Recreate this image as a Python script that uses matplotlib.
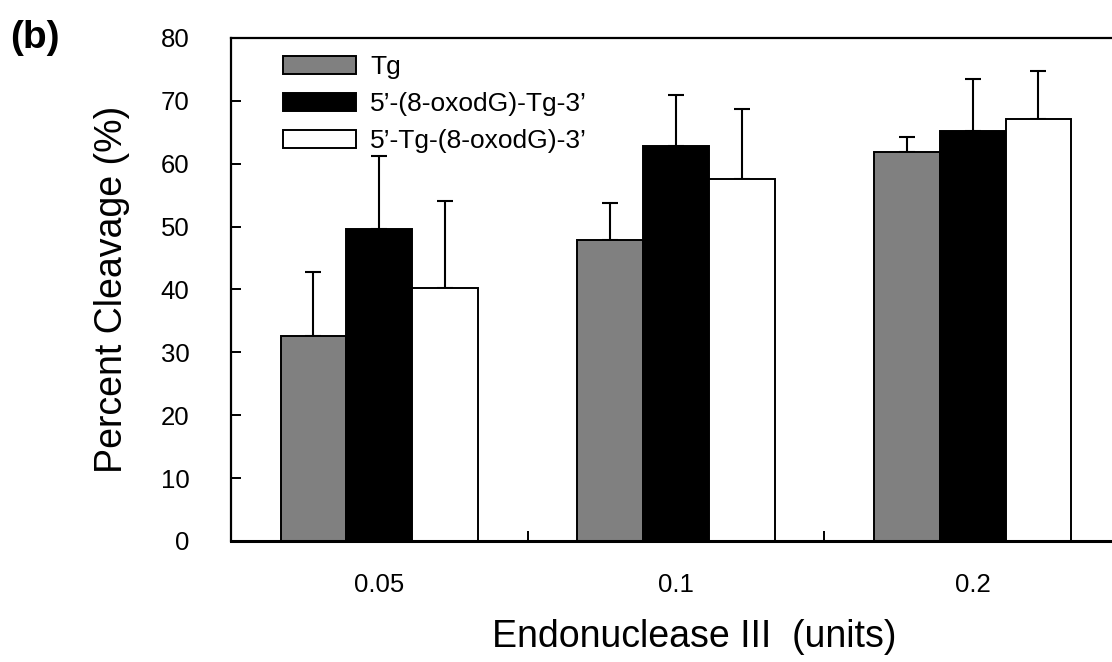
import numpy as np
import matplotlib.pyplot as plt

plt.rcParams['font.family'] = ['Liberation Sans', 'DejaVu Sans']

# données
doses = ['0.05', '0.1', '0.2']
series = ['Tg', '5\u2019-(8-oxodG)-Tg-3\u2019', '5\u2019-Tg-(8-oxodG)-3\u2019']
tg = [32.6, 47.9, 61.9]
tg_err = [10.2, 5.9, 2.4]
oxo_tg = [49.6, 62.8, 65.2]
oxo_tg_err = [11.6, 8.1, 8.3]
tg_oxo = [40.2, 57.6, 67.1]
tg_oxo_err = [13.9, 11.1, 7.7]

valeurs = [tg, oxo_tg, tg_oxo]
erreurs = [tg_err, oxo_tg_err, tg_oxo_err]
couleurs = ['#808080', 'black', 'white']

fig = plt.figure(figsize=(11.12, 6.62), dpi=100)
ax = fig.add_axes([0.2077, 0.1828, 0.8003, 0.7598])

x = np.arange(len(doses))
w = 0.222
for i, (v, e, c, nom) in enumerate(zip(valeurs, erreurs, couleurs, series)):
    pos = x + (i - 1) * w
    ax.bar(pos, v, w, color=c, edgecolor='black', linewidth=1.4, label=nom, zorder=2)
    ax.errorbar(pos, v, yerr=[np.zeros(len(v)), e], fmt='none', ecolor='black',
                elinewidth=1.5, capsize=5.8, capthick=1.5, zorder=1)

ax.set_xlim(-0.5, 2.5)
ax.set_ylim(0, 80)
ax.set_yticks(np.arange(0, 81, 10))
ax.set_xticks([-0.5, 0.5, 1.5, 2.5])
ax.set_xticklabels([])
ax.set_xticks(x, minor=True)
ax.set_xticklabels(doses, minor=True)
ax.tick_params(axis='y', direction='in', length=7, width=1.4, labelsize=18.5, pad=30)
ax.tick_params(axis='x', which='major', direction='in', length=7, width=1.4)
ax.tick_params(axis='x', which='minor', length=0, labelsize=18.5, pad=23)
for s in ax.spines.values():
    s.set_linewidth(1.6)
ax.spines['bottom'].set_linewidth(2.2)

ax.set_ylabel('Percent Cleavage (%)', fontsize=27, labelpad=22)
ax.set_xlabel('Endonuclease III  (units)', fontsize=27, labelpad=16)
ax.xaxis.set_label_coords(0.521, -0.155)

leg = ax.legend(loc='upper left', bbox_to_anchor=(0.047, 0.987), frameon=False,
                fontsize=19, handlelength=2.75, handleheight=0.7,
                handletextpad=0.55, labelspacing=0.5, borderaxespad=0)

fig.text(0.009, 0.97, '(b)', fontsize=28, fontweight='bold', va='top', ha='left')

fig.savefig('out.png', dpi=100)
